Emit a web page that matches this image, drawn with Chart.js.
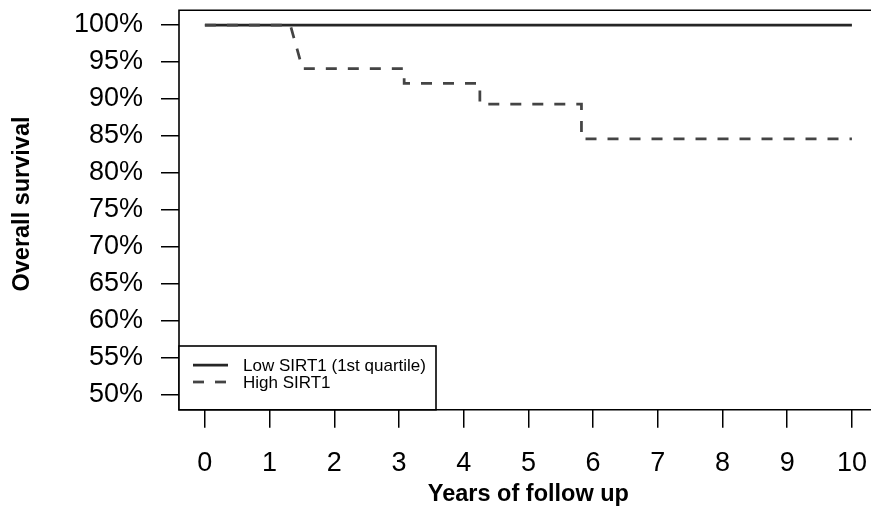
<!DOCTYPE html>
<html>
<head>
<meta charset="utf-8">
<script src="https://cdn.jsdelivr.net/npm/chart.js@4/dist/chart.umd.min.js"></script>
<style>
  html, body { margin: 0; padding: 0; background: #fff; }
  #wrap { width: 871px; height: 511px; }
</style>
</head>
<body>
<div id="wrap"><canvas id="km" width="871" height="511"></canvas></div>
<script>
// Kaplan-Meier overall survival by SIRT1 expression
const lowLabel = 'Low SIRT1 (1st quartile)';
const lowYears = [0, 10];
const lowSurvival = [100, 100];

const highLabel = 'High SIRT1';
const highYears = [0, 1.32, 1.51, 3.08, 3.08, 4.25, 4.25, 5.82, 5.82, 10];
const highSurvival = [100, 100, 94.1, 94.1, 92.1, 92.1, 89.3, 89.3, 84.6, 84.6];

const xTicks = [0, 1, 2, 3, 4, 5, 6, 7, 8, 9, 10];
const yTicks = [50, 55, 60, 65, 70, 75, 80, 85, 90, 95, 100];

const xTitle = 'Years of follow up';
const yTitle = 'Overall survival';

const FONT = '"Liberation Sans", Arial, Helvetica, sans-serif';

function toPoints(xs, ys) {
  return xs.map((x, i) => ({ x: x, y: ys[i] }));
}

// keep the plot area fixed: no extra room reserved for edge labels
function noEdgePadding(scale) {
  scale.paddingTop = 0;
  scale.paddingBottom = 0;
  scale.paddingLeft = 0;
  scale.paddingRight = 0;
}

// frame, axis titles and the boxed legend in the lower-left corner
const decorations = {
  id: 'decorations',
  afterDraw(chart) {
    const ctx = chart.ctx;
    const a = chart.chartArea;
    const xs = chart.scales.x;
    ctx.save();

    // plot frame (right side runs past the canvas edge)
    ctx.strokeStyle = '#000';
    ctx.lineWidth = 1.6;
    ctx.beginPath();
    ctx.moveTo(a.right + 20, a.top);
    ctx.lineTo(a.left, a.top);
    ctx.lineTo(a.left, a.bottom);
    ctx.lineTo(a.right + 20, a.bottom);
    ctx.stroke();

    // axis titles
    ctx.fillStyle = '#000';
    ctx.font = 'bold 23.5px ' + FONT;
    ctx.textAlign = 'center';
    ctx.textBaseline = 'middle';
    ctx.fillText(xTitle, xs.getPixelForValue(5), 495);
    ctx.save();
    ctx.translate(23, 204);
    ctx.rotate(-Math.PI / 2);
    ctx.fillText(yTitle, 0, 0);
    ctx.restore();

    // legend
    const boxL = a.left, boxR = 436, boxT = 346, boxB = a.bottom;
    ctx.fillStyle = '#fff';
    ctx.fillRect(boxL, boxT, boxR - boxL, boxB - boxT);
    ctx.strokeStyle = '#000';
    ctx.lineWidth = 1.6;
    ctx.strokeRect(boxL, boxT, boxR - boxL, boxB - boxT);

    const rows = [chart.data.datasets[0], chart.data.datasets[1]];
    const rowY = [365, 382];
    ctx.font = '17px ' + FONT;
    ctx.textAlign = 'left';
    ctx.textBaseline = 'middle';
    rows.forEach((ds, i) => {
      ctx.save();
      ctx.strokeStyle = ds.borderColor;
      ctx.lineWidth = ds.borderWidth;
      ctx.setLineDash(ds.borderDash || []);
      ctx.beginPath();
      ctx.moveTo(193, rowY[i]);
      ctx.lineTo(228, rowY[i]);
      ctx.stroke();
      ctx.restore();
      ctx.fillStyle = '#000';
      ctx.fillText(ds.label, 243, rowY[i] + 1);
    });
    ctx.restore();
  }
};

new Chart(document.getElementById('km'), {
  type: 'line',
  data: {
    datasets: [
      {
        label: lowLabel,
        data: toPoints(lowYears, lowSurvival),
        borderColor: '#262626',
        borderWidth: 2.75,
        pointRadius: 0,
        tension: 0,
        fill: false,
        order: 1
      },
      {
        label: highLabel,
        data: toPoints(highYears, highSurvival),
        borderColor: '#444444',
        borderWidth: 2.75,
        borderDash: [11, 11],
        borderCapStyle: 'butt',
        pointRadius: 0,
        tension: 0,
        fill: false,
        order: 0
      }
    ]
  },
  options: {
    responsive: false,
    animation: false,
    devicePixelRatio: 1,
    layout: { padding: { top: 10.2, left: 0, right: 0, bottom: 0 } },
    plugins: {
      legend: { display: false },
      tooltip: { enabled: false },
      title: { display: false }
    },
    scales: {
      x: {
        type: 'linear',
        min: -0.4,
        max: 10.295,
        afterBuildTicks(scale) { scale.ticks = xTicks.map(v => ({ value: v })); },
        afterFit(scale) { scale.height = 101.2; noEdgePadding(scale); },
        border: { display: false },
        grid: {
          drawOnChartArea: false,
          drawTicks: true,
          tickLength: 18,
          color: '#000',
          lineWidth: 1.5
        },
        ticks: {
          autoSkip: false,
          maxRotation: 0,
          padding: 20,
          color: '#000',
          font: { family: FONT, size: 27 },
          callback: v => String(v)
        }
      },
      y: {
        type: 'linear',
        min: 48,
        max: 102,
        afterBuildTicks(scale) { scale.ticks = yTicks.map(v => ({ value: v })); },
        afterFit(scale) { scale.width = 179; noEdgePadding(scale); },
        border: { display: false },
        grid: {
          drawOnChartArea: false,
          drawTicks: true,
          tickLength: 18,
          color: '#000',
          lineWidth: 1.5
        },
        ticks: {
          autoSkip: false,
          padding: 18,
          color: '#000',
          font: { family: FONT, size: 27 },
          callback: v => v + '%'
        }
      }
    }
  },
  plugins: [decorations]
});
</script>
</body>
</html>
